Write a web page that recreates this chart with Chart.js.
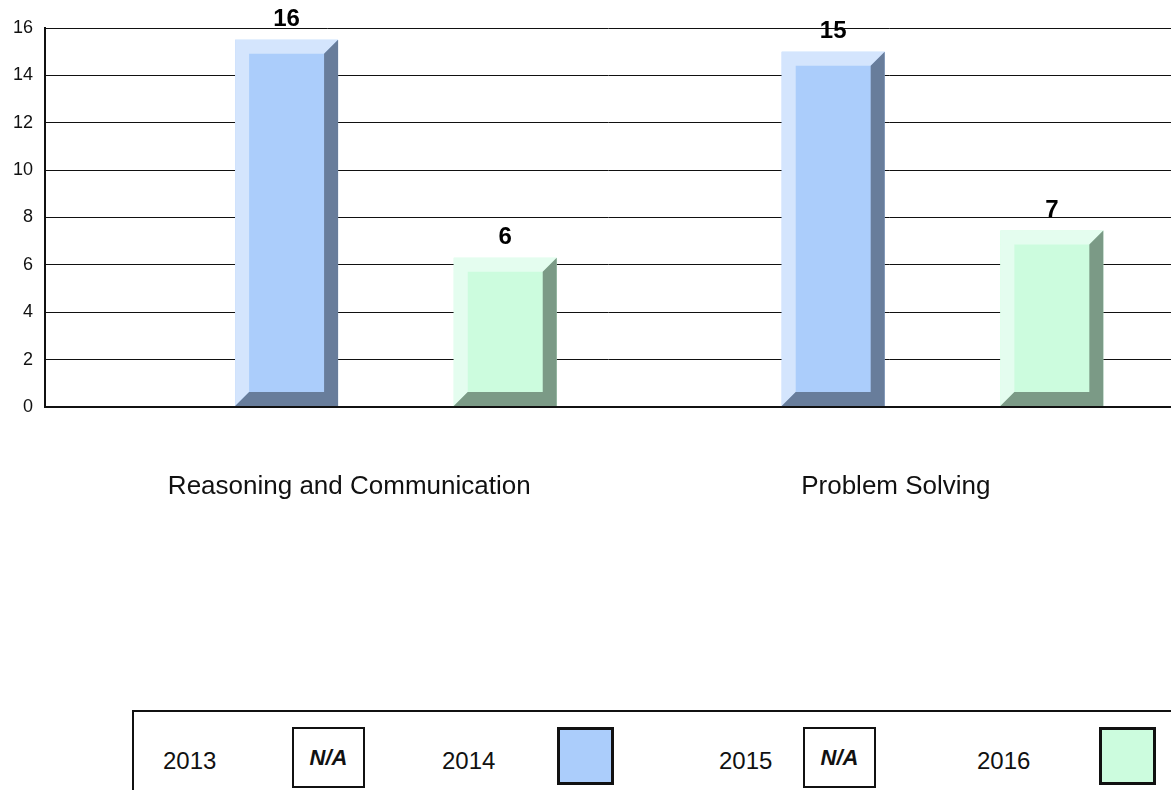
<!DOCTYPE html>
<html>
<head>
<meta charset="utf-8">
<script src="https://cdn.jsdelivr.net/npm/chart.js@4/dist/chart.umd.min.js"></script>
<style>
  html, body { margin: 0; padding: 0; background: #fff; overflow: hidden; }
  body { width: 1171px; height: 790px; position: relative; font-family: "Liberation Sans", Arial, sans-serif; }
  #wrap { position: absolute; left: 0; top: 0; width: 1171px; height: 520px; }
  #legend { position: absolute; left: 132px; top: 710px; width: 1100px; height: 120px;
            border: 2px solid #111; box-sizing: border-box; }
  .lt { position: absolute; top: 761px; transform: translateY(-50%); font-size: 24px; color: #111; }
  .na { position: absolute; box-sizing: border-box; border: 2px solid #111; width: 73px; height: 61px;
        top: 727px; font-size: 22px; font-weight: bold; font-style: italic; color: #111;
        display: flex; align-items: center; justify-content: center; }
  .sw { position: absolute; box-sizing: border-box; border: 3px solid #111; width: 57px; height: 58px; top: 727px; }
</style>
</head>
<body>
<div id="wrap"><canvas id="c"></canvas></div>
<div id="legend"></div>
<div class="lt" style="left:163px">2013</div>
<div class="na" style="left:292px">N/A</div>
<div class="lt" style="left:442px">2014</div>
<div class="sw" id="sw2014" style="left:557px"></div>
<div class="lt" style="left:719px">2015</div>
<div class="na" style="left:803px">N/A</div>
<div class="lt" style="left:977px">2016</div>
<div class="sw" id="sw2016" style="left:1099px"></div>
<script>
// ---- data ----
const categories = ["Reasoning and Communication", "Problem Solving"];
const seriesNames = ["2013", "2014", "2015", "2016"];
const values2013 = [null, null];
const values2014 = [15.5, 15.0];
const values2015 = [null, null];
const values2016 = [6.3, 7.45];
const yTicks = [0, 2, 4, 6, 8, 10, 12, 14, 16];

// ---- styles ----
const faceColors  = { "2013": "#ffffff", "2014": "#abcdfb", "2015": "#ffffff", "2016": "#ccfcde" };
const lightColors = { "2014": "#d4e5fd", "2016": "#e4fdef" };
const darkColors  = { "2014": "#687d9b", "2016": "#7b9a86" };
document.getElementById('sw2014').style.background = faceColors["2014"];
document.getElementById('sw2016').style.background = faceColors["2016"];

const seriesValues = [values2013, values2014, values2015, values2016];
const datasets = seriesNames.map((name, si) => ({
  label: name,
  data: seriesValues[si].map((v, i) => ({ x: i, y: v })),
  backgroundColor: faceColors[name],
  borderWidth: 0,
  categoryPercentage: 0.8,
  barPercentage: 0.942
}));

const bevelPlugin = {
  id: 'bevel',
  afterDatasetsDraw(chart) {
    const ctx = chart.ctx;
    const b = 14;
    chart.data.datasets.forEach((ds, di) => {
      const meta = chart.getDatasetMeta(di);
      const light = lightColors[ds.label], dark = darkColors[ds.label];
      meta.data.forEach((el, i) => {
        const v = ds.data[i].y;
        if (v === null || v === undefined) return;
        const p = el.getProps(['x', 'y', 'base', 'width'], true);
        const L = p.x - p.width / 2, R = p.x + p.width / 2, T = p.y, B = p.base;
        ctx.save();
        ctx.fillStyle = light;
        ctx.beginPath();
        ctx.moveTo(L, T); ctx.lineTo(R, T); ctx.lineTo(R - b, T + b); ctx.lineTo(L + b, T + b);
        ctx.lineTo(L + b, B - b); ctx.lineTo(L, B); ctx.closePath(); ctx.fill();
        ctx.fillStyle = dark;
        ctx.beginPath();
        ctx.moveTo(R, T); ctx.lineTo(R, B); ctx.lineTo(L, B); ctx.lineTo(L + b, B - b);
        ctx.lineTo(R - b, B - b); ctx.lineTo(R - b, T + b); ctx.closePath(); ctx.fill();
        // value label
        ctx.fillStyle = '#000';
        ctx.font = 'bold 24px "Liberation Sans", Arial, sans-serif';
        ctx.textAlign = 'center';
        ctx.textBaseline = 'bottom';
        ctx.fillText(String(Math.round(v)), p.x, T - 8);
        ctx.restore();
      });
    });
  }
};

new Chart(document.getElementById('c'), {
  type: 'bar',
  data: { datasets },
  options: {
    responsive: true,
    maintainAspectRatio: false,
    animation: false,
    layout: { padding: { top: 28, right: 0, left: 0, bottom: 0 } },
    plugins: { legend: { display: false }, tooltip: { enabled: false } },
    scales: {
      x: {
        type: 'linear',
        offset: false,
        min: -0.542,
        max: 1.518,
        afterBuildTicks(scale) { scale.ticks = categories.map((c, i) => ({ value: i })); },
        afterFit(scale) { scale.height = 113; },
        ticks: {
          callback: (v) => categories[v],
          font: { family: '"Liberation Sans", Arial, sans-serif', size: 26 },
          color: '#111',
          padding: 56,
          labelOffset: 8,
          maxRotation: 0,
          autoSkip: false
        },
        grid: { display: false },
        border: { display: true, color: '#111', width: 2 }
      },
      y: {
        min: 0,
        max: 16,
        afterBuildTicks(scale) { scale.ticks = yTicks.map(v => ({ value: v })); },
        afterFit(scale) { scale.width = 45; },
        ticks: {
          font: { family: '"Liberation Sans", Arial, sans-serif', size: 18 },
          color: '#111',
          padding: 12
        },
        grid: {
          color: '#111',
          lineWidth: (c) => (c.tick && c.tick.value === 0 ? 2 : 1),
          drawTicks: false
        },
        border: { display: true, color: '#111', width: 2 }
      }
    }
  },
  plugins: [bevelPlugin]
});
</script>
</body>
</html>
